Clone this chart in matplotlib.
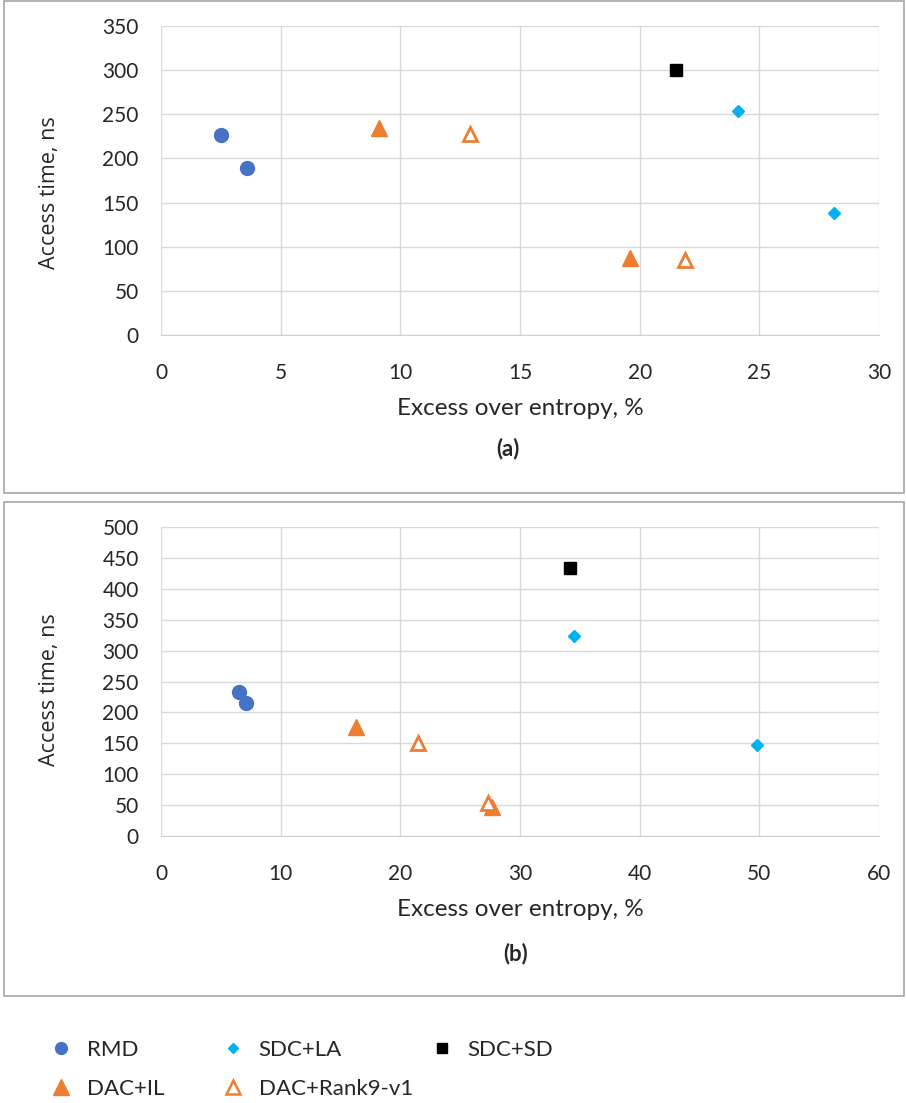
import matplotlib
matplotlib.use('Agg')
import matplotlib.pyplot as plt
from matplotlib.patches import Rectangle
from matplotlib.lines import Line2D

plt.rcParams['font.family'] = ['Lato', 'DejaVu Sans']

# panel (a)
a_rmd_x = [2.5, 3.6]
a_rmd_y = [227, 189]
a_il_x = [9.1, 19.6]
a_il_y = [234, 87]
a_rank_x = [12.9, 21.9]
a_rank_y = [228, 85]
a_la_x = [24.1, 28.1]
a_la_y = [254, 138]
a_sd_x = [21.5]
a_sd_y = [300]

# panel (b)
b_rmd_x = [6.5, 7.1]
b_rmd_y = [233, 215]
b_il_x = [16.3, 27.7]
b_il_y = [176, 47]
b_rank_x = [21.5, 27.3]
b_rank_y = [150, 53]
b_la_x = [34.5, 49.8]
b_la_y = [324, 147]
b_sd_x = [34.2]
b_sd_y = [433]

c_rmd = '#4472C4'
c_dac = '#ED7D31'
c_la = '#00B0F0'
c_sd = '#000000'
c_txt = '#262626'

W, H = 906, 1103
fig = plt.figure(figsize=(W / 100, H / 100), dpi=100)

# panel frames
for top, bot in [(1, 493), (502, 996)]:
    fig.patches.append(Rectangle((4 / W, 1 - bot / H), (904 - 4) / W, (bot - top) / H,
                                 transform=fig.transFigure, fill=False,
                                 edgecolor='#A6A6A6', linewidth=1.2))


def panel(rect, xmax, xstep, ymax, ystep, data, tag, tag_x, tag_y, ylab_y):
    ax = fig.add_axes(rect)
    (rx, ry), (ix, iy), (kx, ky), (lx, ly), (sx, sy) = data
    ax.plot(rx, ry, 'o', color=c_rmd, markersize=10, linestyle='none', zorder=3)
    ax.plot(ix, iy, '^', color=c_dac, markersize=11, linestyle='none', zorder=3)
    ax.plot(kx, ky, '^', markerfacecolor='white', markeredgecolor=c_dac,
            markeredgewidth=2, markersize=10, linestyle='none', zorder=3)
    ax.plot(lx, ly, 'D', color=c_la, markersize=6.5, linestyle='none', zorder=3)
    ax.plot(sx, sy, 's', color=c_sd, markersize=8.5, linestyle='none', zorder=3)
    ax.set_xlim(0, xmax)
    ax.set_ylim(0, ymax)
    ax.set_xticks(range(0, xmax + 1, xstep))
    ax.set_yticks(range(0, ymax + 1, ystep))
    ax.grid(True, color='#D9D9D9', linewidth=1)
    ax.set_axisbelow(True)
    for s in ['top', 'right', 'left']:
        ax.spines[s].set_visible(False)
    ax.spines['bottom'].set_color('#D0D0D0')
    ax.tick_params(length=0, labelsize=15, colors=c_txt, pad=20)
    ax.tick_params(axis='y', pad=16)
    ax.set_xlabel('Excess over entropy, %', fontsize=17.5, color=c_txt, labelpad=11)
    ax.set_ylabel('Access time, ns', fontsize=15.5, color=c_txt,
                  family=['Open Sans', 'DejaVu Sans'])
    ax.yaxis.set_label_coords(-0.14, ylab_y)
    fig.text(tag_x / W, 1 - tag_y / H, tag,
             fontsize=16, fontweight='bold', ha='center', va='center', color=c_txt)
    return ax


panel([161 / W, 1 - 335 / H, (879 - 161) / W, (335 - 26) / H], 30, 5, 350, 50,
      [(a_rmd_x, a_rmd_y), (a_il_x, a_il_y), (a_rank_x, a_rank_y),
       (a_la_x, a_la_y), (a_sd_x, a_sd_y)], '(a)', 508, 449, 0.46)
panel([161 / W, 1 - 836 / H, (879 - 161) / W, (836 - 527) / H], 60, 10, 500, 50,
      [(b_rmd_x, b_rmd_y), (b_il_x, b_il_y), (b_rank_x, b_rank_y),
       (b_la_x, b_la_y), (b_sd_x, b_sd_y)], '(b)', 516, 954, 0.475)

h_rmd = Line2D([], [], marker='o', color=c_rmd, linestyle='none', markersize=8.5)
h_il = Line2D([], [], marker='^', color=c_dac, linestyle='none', markersize=11)
h_la = Line2D([], [], marker='D', color=c_la, linestyle='none', markersize=5.5)
h_rank = Line2D([], [], marker='^', markerfacecolor='white', markeredgecolor=c_dac,
                markeredgewidth=1.8, linestyle='none', markersize=10)
h_sd = Line2D([], [], marker='s', color=c_sd, linestyle='none', markersize=6.5)

# legend: three columns placed like the original
columns = [([h_rmd, h_il], ['RMD', 'DAC+IL'], 50),
           ([h_la, h_rank], ['SDC+LA', 'DAC+Rank9-v1'], 222),
           ([h_sd], ['SDC+SD'], 431)]
for hs, ls, x0 in columns:
    leg = fig.legend(hs, ls, loc='upper left', bbox_to_anchor=(x0 / W, 1 - 1040 / H),
                     frameon=False, fontsize=16, handlelength=1.0, handletextpad=0.65,
                     labelspacing=0.85, borderpad=0, borderaxespad=0)
    for t in leg.get_texts():
        t.set_color(c_txt)

fig.savefig('out.png', dpi=100)
